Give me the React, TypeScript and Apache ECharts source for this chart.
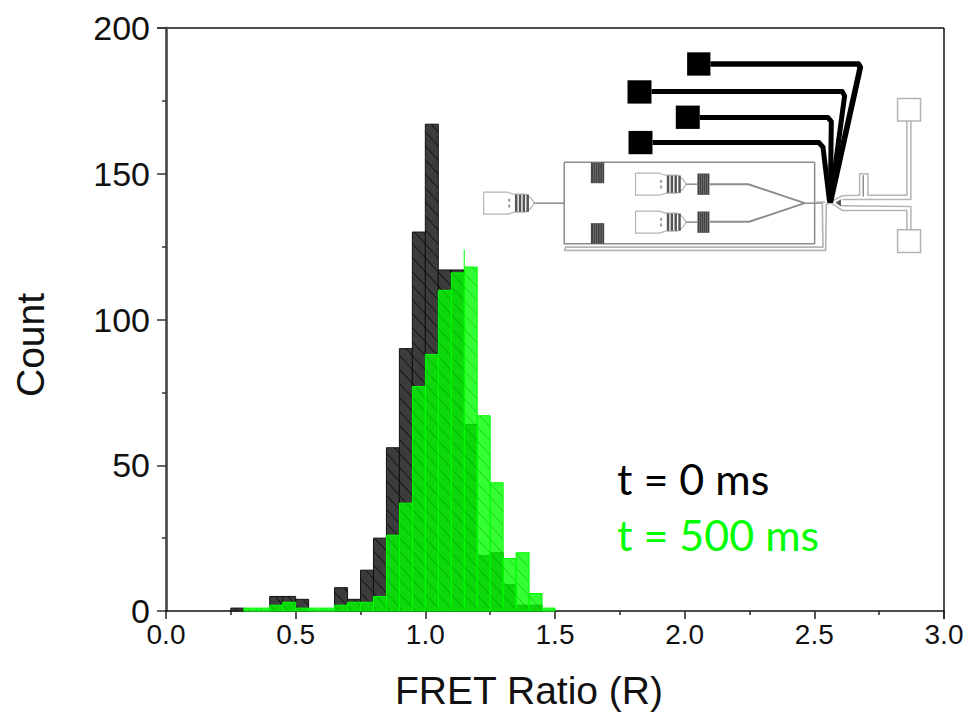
import React, { useEffect, useRef } from "react";
import * as echarts from "echarts";

const binEdges = [0.25,0.3,0.35,0.4,0.45,0.5,0.55,0.6,0.65,0.7,0.75,0.8,0.85,0.9,0.95,1.0,1.05,1.1,1.15,1.2,1.25,1.3,1.35,1.4,1.45,1.5];
const countsT0 = [1,0,0,5,5,4,0,0,8,4,14,25,56,90,130,167,117,117,64,19,20,9,2,2,0];
const countsT500 = [0,1,1,2,3,1,1,1,2,3,3,5,26,37,77,88,110,116,118,67,44,18,20,6,1];
const spikeX = 1.15;
const spikeRange = [118, 124];
const xTicks = [0, 0.5, 1, 1.5, 2, 2.5, 3];
const yTicks = [0, 50, 100, 150, 200];
const xTitle = "FRET Ratio (R)";
const yTitle = "Count";
const label0 = "t = 0 ms";
const label500 = "t = 500 ms";

function rows(counts: number[]) {
  return counts
    .map((c, i) => [binEdges[i], binEdges[i + 1], c])
    .filter((r) => r[2] > 0);
}

// Diagonal hatch segments ("\" direction) clipped to a rectangle.
function hatch(x: number, y: number, w: number, h: number, gap: number, stroke: string, lw: number) {
  const out: any[] = [];
  const slope = 1.1;
  const phase = ((y - slope * x) % gap + gap) % gap;
  for (let c = -phase - Math.ceil((w * slope) / gap + 1) * gap; c < h; c += gap) {
    let x0 = 0;
    let x1 = w;
    if (c < 0) x0 = -c / slope;
    if (c + slope * w > h) x1 = (h - c) / slope;
    if (x1 <= x0) continue;
    out.push({
      type: "line",
      silent: true,
      shape: { x1: x + x0, y1: y + c + slope * x0, x2: x + x1, y2: y + c + slope * x1 },
      style: { stroke, lineWidth: lw, fill: "none" },
    });
  }
  return out;
}

function barRenderer(fill: string, border: string, hatchColor: string, gap: number) {
  return (_p: any, api: any) => {
    const a = api.coord([api.value(0), api.value(2)]);
    const b = api.coord([api.value(1), 0]);
    const x = a[0];
    const y = a[1];
    const w = b[0] - a[0];
    const h = b[1] - a[1];
    return {
      type: "group",
      children: [
        { type: "rect", shape: { x, y, width: w, height: h }, style: { fill, stroke: "none" } },
        ...hatch(x, y, w, h, gap, hatchColor, 0.8),
        { type: "rect", shape: { x, y, width: w, height: h }, style: { fill: "none", stroke: border, lineWidth: 1 } },
      ],
    };
  };
}

const G = "#8c8c8c";
const L = "#b4b4b4";
const line = (pts: number[][], stroke = G, lineWidth = 4) => ({
  type: "polyline",
  shape: { points: pts },
  style: { stroke, lineWidth, fill: "none", lineJoin: "round" },
});
const box = (x: number, y: number, w: number, h: number, fill: string, stroke = "none", lineWidth = 0) => ({
  type: "rect",
  shape: { x, y, width: w, height: h },
  style: { fill, stroke, lineWidth },
});

function comb(x: number, y: number, w: number, h: number) {
  const out: any[] = [box(x, y, w, h, "#444")];
  for (let i = 1; i < 6; i++) out.push(box(x + (i * w) / 6, y, 1.5, h, "#8a8a8a"));
  return out;
}

function inlet(x: number, y: number) {
  const cy = y + 33;
  const outline = [
    [x, y], [x + 72, y], [x + 90, y + 6], [x + 126, y + 6], [x + 142, y + 18], [x + 152, cy],
    [x + 142, y + 48], [x + 126, y + 60], [x + 90, y + 60], [x + 72, y + 66], [x, y + 66], [x, y],
  ];
  const out: any[] = [line(outline, L, 3.5)];
  for (let i = 0; i < 4; i++) out.push(box(x + 94 + i * 11.5, y + 7, 7.5, 52, "#555"));
  out.push(box(x + 74, y + 20, 6, 9, "#999"), box(x + 74, y + 37, 6, 9, "#999"));
  return out;
}

const deviceChildren: any[] = [
  // chamber outline
  line([[283, 367], [1035, 367], [1035, 612], [283, 612], [283, 367]], G, 4.5),
  ...comb(363, 368, 40, 62),
  ...comb(363, 550, 40, 62),
  ...comb(683, 401, 36, 64),
  ...comb(683, 515, 36, 64),
  ...inlet(41, 457),
  ...inlet(497, 400),
  ...inlet(497, 514),
  line([[192, 490], [283, 490]], G, 4.5),
  line([[649, 433], [683, 433]], G, 4.5),
  line([[649, 547], [683, 547]], G, 4.5),
  line([[720, 433], [836, 433], [1005, 490]], G, 6),
  line([[720, 546], [838, 546], [1005, 490]], G, 6),
  line([[1005, 490], [1060, 490]], G, 4.5),
  // outer return channels
  line([[1058, 492], [1060, 622], [287, 622], [284, 632], [1068, 632], [1070, 492], [1085, 490]], L, 5),
  line([[1035, 487], [1066, 487]], L, 5),
  // right side pads and leads
  box(1284, 176, 69, 67, "none", L, 4.5),
  box(1284, 570, 69, 68, "none", L, 4.5),
  line([[1312, 243], [1312, 466], [1195, 466], [1195, 402], [1170, 402], [1170, 466], [1118, 468], [1090, 482]], L, 4.5),
  line([[1324, 243], [1324, 479], [1118, 479]], L, 4.5),
  line([[1312, 570], [1312, 512], [1118, 512], [1085, 490]], L, 4.5),
  line([[1324, 570], [1324, 500], [1118, 498], [1100, 490]], L, 4.5),
  line([[1181, 406], [1181, 470]], G, 4.5),
  { type: "polygon", shape: { points: [[1098, 488], [1114, 478], [1114, 500]] }, style: { fill: "#555" } },
  // black electrode pads and traces
  box(652, 37, 70, 70, "#000"),
  box(473, 121, 72, 70, "#000"),
  box(618, 197, 72, 70, "#000"),
  box(476, 273, 72, 70, "#000"),
  line([[722, 72], [1166, 72], [1172, 82], [1082, 488]], "#000", 17),
  line([[545, 155], [1118, 155], [1125, 168], [1082, 488]], "#000", 15),
  line([[690, 233], [1075, 233], [1085, 245], [1082, 488]], "#000", 15),
  line([[548, 308], [1048, 308], [1060, 322], [1080, 488]], "#000", 15),
];

export default function App() {
  const ref = useRef<HTMLDivElement>(null);
  useEffect(() => {
    document.body.style.margin = "0";
    const chart = echarts.init(ref.current!, undefined, { renderer: "svg" });
    chart.setOption({
      animation: false,
      backgroundColor: "#fff",
      grid: { left: 166, right: 25, top: 28, bottom: 101, containLabel: false },
      xAxis: {
        type: "value",
        min: 0,
        max: 3,
        interval: 0.5,
        axisLine: { show: true, onZero: false, lineStyle: { color: "#111", width: 1.5 } },
        axisTick: { show: true, length: 8, lineStyle: { color: "#222", width: 1.5 } },
        minorTick: { show: true, splitNumber: 2, length: 4, lineStyle: { color: "#222", width: 1.5 } },
        splitLine: { show: false },
        axisLabel: {
          fontFamily: "Liberation Sans",
          fontSize: 28,
          color: "#111",
          margin: 9,
          hideOverlap: false,
          formatter: (v: number) => (xTicks.includes(v) ? v.toFixed(1) : ""),
        },
      },
      yAxis: {
        type: "value",
        min: 0,
        max: 200,
        interval: 50,
        axisLine: { show: true, onZero: false, lineStyle: { color: "#444", width: 2.6 } },
        axisTick: { show: true, length: 9, lineStyle: { color: "#333", width: 1.5 } },
        minorTick: { show: true, splitNumber: 2, length: 4, lineStyle: { color: "#333", width: 1.5 } },
        splitLine: { show: false },
        axisLabel: {
          fontFamily: "Liberation Sans",
          fontSize: 34,
          color: "#111",
          margin: 16,
          formatter: (v: number) => (yTicks.includes(v) ? String(v) : ""),
        },
      },
      graphic: [
        { type: "line", shape: { x1: 157, y1: 28, x2: 944, y2: 28 }, style: { stroke: "#111", lineWidth: 1.5 } },
        { type: "line", shape: { x1: 944, y1: 28, x2: 944, y2: 619 }, style: { stroke: "#111", lineWidth: 1.5 } },
        { type: "group", x: 470, y: 40, scaleX: 1 / 3, scaleY: 1 / 3, children: deviceChildren },
        { type: "text", x: 529, y: 690, style: { text: xTitle, fontFamily: "Liberation Sans", fontSize: 39, fill: "#111", align: "center", verticalAlign: "middle" } },
        { type: "text", x: 30, y: 345, rotation: Math.PI / 2, style: { text: yTitle, fontFamily: "Liberation Sans", fontSize: 39, fill: "#111", align: "center", verticalAlign: "middle" } },
        { type: "text", x: 617, y: 457, style: { text: label0, fontFamily: "Lato", fontSize: 43, fill: "#000" } },
        { type: "text", x: 617, y: 513, style: { text: label500, fontFamily: "Lato", fontSize: 43, fill: "#00ff00" } },
      ],
      series: [
        {
          type: "custom",
          name: label0,
          data: rows(countsT0),
          encode: { x: [0, 1], y: 2 },
          clip: false,
          z: 2,
          renderItem: barRenderer("#3c3c3c", "#111", "#000", 14),
        },
        {
          type: "custom",
          name: label500,
          data: rows(countsT500),
          encode: { x: [0, 1], y: 2 },
          clip: false,
          z: 3,
          renderItem: barRenderer("rgba(0,255,0,0.8)", "#00ff00", "rgba(0,130,0,0.5)", 14),
        },
        {
          type: "custom",
          name: "spike",
          data: [[spikeX, spikeRange[0], spikeRange[1]]],
          encode: { x: 0, y: [1, 2] },
          z: 4,
          renderItem: (_p: any, api: any) => {
            const a = api.coord([api.value(0), api.value(1)]);
            const b = api.coord([api.value(0), api.value(2)]);
            return { type: "line", shape: { x1: a[0], y1: a[1], x2: b[0], y2: b[1] }, style: { stroke: "#00ff00", lineWidth: 1 } };
          },
        },
      ],
    });
    return () => chart.dispose();
  }, []);
  return <div ref={ref} style={{ position: "absolute", left: 0, top: 0, width: 969, height: 712 }} />;
}
